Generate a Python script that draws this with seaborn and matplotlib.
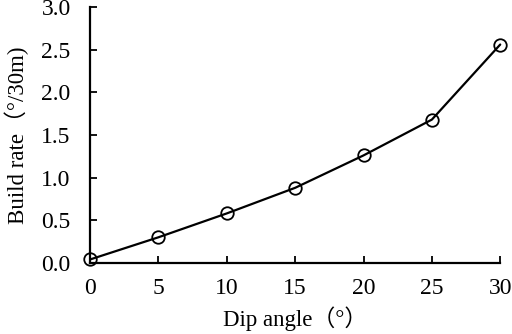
import matplotlib
matplotlib.use("Agg")
import matplotlib.pyplot as plt
import seaborn as sns
import pandas as pd

# data
dip_angle = [0, 5, 10, 15, 20, 25, 30]
build_rate = [0.04, 0.30, 0.58, 0.88, 1.26, 1.68, 2.56]

sns.set_style("ticks")
plt.rcParams["font.family"] = ["Liberation Serif", "Noto Sans CJK SC"]
plt.rcParams["text.color"] = "black"
plt.rcParams["axes.labelcolor"] = "black"

df = pd.DataFrame({"dip": dip_angle, "rate": build_rate})

fig = plt.figure(figsize=(5.12, 3.34), dpi=100)
ax = fig.add_axes([0.176, 0.213, 0.801, 0.766])

sns.lineplot(data=df, x="dip", y="rate", ax=ax, color="black", linewidth=1.6,
             marker="o", markersize=9, markerfacecolor="none",
             markeredgecolor="black", markeredgewidth=1.3, clip_on=False)

ax.set_xlim(0, 30)
ax.set_ylim(0, 3.0)
ax.set_xticks([0, 5, 10, 15, 20, 25, 30])
ax.set_yticks([0.0, 0.5, 1.0, 1.5, 2.0, 2.5, 3.0])
ax.set_yticklabels([f"{v:.1f}" for v in ax.get_yticks()])

ax.tick_params(direction="in", length=5, width=1.3, labelsize=17, colors="black")
ax.tick_params(axis="y", pad=14)
ax.tick_params(axis="x", pad=11)
for side in ["top", "right"]:
    ax.spines[side].set_visible(False)
for side in ["left", "bottom"]:
    ax.spines[side].set_linewidth(1.6)
    ax.spines[side].set_color("black")

ax.set_xlabel("Dip angle（°）", fontsize=16.5, labelpad=5)
ax.set_ylabel("Build rate（°/30m)", fontsize=16.5, labelpad=9)

fig.savefig("out.png", dpi=100)
